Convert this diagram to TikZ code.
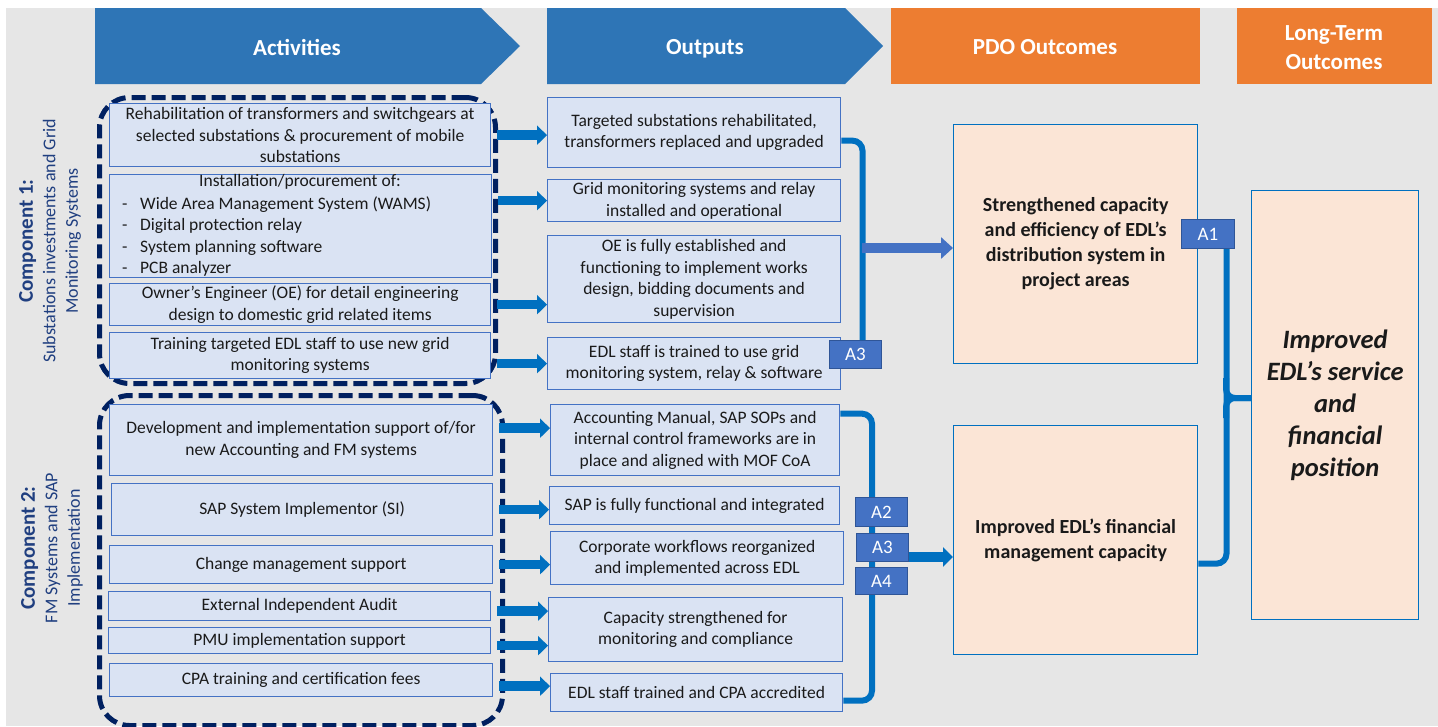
\documentclass[tikz,border=0pt]{standalone}
\usepackage{fontspec}
\setmainfont{Carlito}
\usetikzlibrary{arrows.meta}

\definecolor{bggray}{HTML}{E6E6E6}
\definecolor{hdrblue}{HTML}{2E75B6}
\definecolor{hdrorange}{HTML}{ED7D31}
\definecolor{boxfill}{HTML}{DAE3F3}
\definecolor{boxedge}{HTML}{4472C4}
\definecolor{pdofill}{HTML}{FBE5D6}
\definecolor{pdoedge}{HTML}{0070C0}
\definecolor{navy}{HTML}{002060}
\definecolor{flowblue}{HTML}{0070C0}
\definecolor{labfill}{HTML}{4472C4}
\definecolor{labedge}{HTML}{2F5597}
\definecolor{compblue}{HTML}{203F80}
\definecolor{ink}{HTML}{1A1A1A}

\newcommand\fbody{\fontsize{17.5}{21.5}\selectfont}
\newcommand\fhead{\fontsize{23}{29}\selectfont\bfseries}
\newcommand\fpdo{\fontsize{20}{25}\selectfont\bfseries}
\newcommand\flt{\fontsize{26.5}{32}\selectfont\bfseries\itshape}
\newcommand\flab{\fontsize{19}{22}\selectfont}

\tikzset{
  hdrtext/.style={text=white, font=\fhead, align=center, inner sep=0pt},
  actbox/.style={draw=boxedge, fill=boxfill, line width=1.3pt, inner sep=0pt,
    align=center, font=\fbody, text=ink, anchor=north west},
  outbox/.style={actbox},
  pdobox/.style={draw=pdoedge, fill=pdofill, line width=1.3pt, inner sep=0pt,
    align=center, text=ink, anchor=north west},
  dashbox/.style={draw=navy, line width=5pt, dash pattern=on 14pt off 6pt,
    rounded corners=30pt, inner sep=0pt, anchor=north west},
  lab/.style={draw=labedge, fill=labfill, line width=1pt, text=white, font=\flab,
    inner sep=0pt, anchor=north west},
  actarrow/.style={draw=flowblue, line width=9.5pt, shorten <=6pt,
    -{Triangle[length=10pt,width=19pt]}},
  pdoarrow/.style={draw=labfill, line width=10.5pt,
    -{Triangle[length=12pt,width=21pt]}},
  brk/.style={draw=flowblue, line width=6pt, rounded corners=10pt},
  complab/.style={rotate=90, align=center, text=compblue,
    font=\fontsize{18}{22.5}\selectfont, inner sep=0pt},
}

\begin{document}
\begin{tikzpicture}[x=1pt,y=-1pt]
\useasboundingbox (0,0) rectangle (1438,726);
\fill[bggray] (6,8) rectangle (1438,726);

% column headers
\fill[hdrblue] (95,8) -- (481,8) -- (520,46) -- (481,84) -- (95,84) -- cycle;
\fill[hdrblue] (547,8) -- (845,8) -- (883,46) -- (845,84) -- (547,84) -- cycle;
\fill[hdrorange] (891,8) rectangle (1200,84);
\fill[hdrorange] (1237,8) rectangle (1432,84);
\node[hdrtext] (hact) at (297,47) {Activities};
\node[hdrtext] (hout) at (705,49) {Outputs};
\node[hdrtext] (hpdo) at (1045,47) {PDO Outcomes};
\node[hdrtext] (hlt) at (1334,48) {Long-Term\\Outcomes};

% component labels
\node[complab] (c1lab) at (50,241) {{\fontsize{21}{22.5}\selectfont\bfseries Component 1:}\\Substations investments and Grid\\Monitoring Systems};
\node[complab] (c2lab) at (52,548) {{\fontsize{21}{22.5}\selectfont\bfseries Component 2:}\\FM Systems and SAP\\Implementation};

% activity groups
\node[dashbox, minimum width=396pt, minimum height=286pt] (g1) at (97,95) {};
\node[dashbox, minimum width=403pt, minimum height=330pt] (g2) at (97,393) {};

% activities, component 1
\node[actbox, minimum width=381pt, minimum height=63pt] (a1) at (109,103)
  {Rehabilitation of transformers and switchgears at\\selected substations \& procurement of mobile\\substations};
\node[actbox, minimum width=382pt, minimum height=103pt] (a2) at (109,174) {};
\node[font=\fbody, text=ink, inner sep=0pt] (a2h) at (300,182) {Installation/procurement of:};
\node[font=\fbody, text=ink, inner sep=0pt, anchor=north west] (a2l) at (122,194)
  {\begin{tabular}{@{}p{18pt}@{}l@{}}
   - & Wide Area Management System (WAMS)\\
   - & Digital protection relay\\
   - & System planning software\\
   - & PCB analyzer
   \end{tabular}};
\node[actbox, minimum width=381pt, minimum height=42pt] (a3) at (109,283)
  {Owner’s Engineer (OE) for detail engineering\\design to domestic grid related items};
\node[actbox, minimum width=381pt, minimum height=46pt] (a4) at (109,332)
  {Training targeted EDL staff to use new grid\\monitoring systems};

% activities, component 2
\node[actbox, minimum width=383pt, minimum height=71pt] (a5) at (109,404)
  {Development and implementation support of/for\\new Accounting and FM systems};
\node[actbox, minimum width=381pt, minimum height=52pt] (a6) at (111,483)
  {SAP System Implementor (SI)};
\node[actbox, minimum width=383pt, minimum height=38pt] (a7) at (109,545)
  {Change management support};
\node[actbox, minimum width=382pt, minimum height=29pt] (a8) at (108,591)
  {External Independent Audit};
\node[actbox, minimum width=382pt, minimum height=26pt] (a9) at (108,627)
  {PMU implementation support};
\node[actbox, minimum width=383pt, minimum height=33pt] (a10) at (109,663)
  {CPA training and certification fees};

% outputs
\node[outbox, minimum width=293pt, minimum height=70pt] (o1) at (547,97)
  {Targeted substations rehabilitated,\\transformers replaced and upgraded};
\node[outbox, minimum width=293pt, minimum height=42pt] (o2) at (547,179)
  {Grid monitoring systems and relay\\installed and operational};
\node[outbox, minimum width=293pt, minimum height=87pt] (o3) at (547,235)
  {OE is fully established and\\functioning to implement works\\design, bidding documents and\\supervision};
\node[outbox, minimum width=293pt, minimum height=52pt] (o4) at (547,337)
  {EDL staff is trained to use grid\\monitoring system, relay \& software};
\node[outbox, minimum width=289pt, minimum height=71pt] (o5) at (550,404)
  {Accounting Manual, SAP SOPs and\\internal control frameworks are in\\place and aligned with MOF CoA};
\node[outbox, minimum width=290pt, minimum height=38pt] (o6) at (549,486)
  {SAP is fully functional and integrated};
\node[outbox, minimum width=293pt, minimum height=53pt] (o7) at (550,531)
  {Corporate workflows reorganized\\and implemented across EDL};
\node[outbox, minimum width=294pt, minimum height=64pt] (o8) at (548,597)
  {Capacity strengthened for\\monitoring and compliance};
\node[outbox, minimum width=292pt, minimum height=38pt] (o9) at (550,673)
  {EDL staff trained and CPA accredited};

% outcomes
\node[pdobox, minimum width=244pt, minimum height=239pt, font=\fpdo] (p1) at (953,124)
  {Strengthened capacity\\and efficiency of EDL’s\\distribution system in\\project areas};
\node[pdobox, minimum width=244pt, minimum height=229pt, font=\fpdo] (p2) at (953,425)
  {Improved EDL’s financial\\management capacity};
\node[pdobox, minimum width=167pt, minimum height=429pt, font=\flt] (lt) at (1251,190)
  {Improved\\EDL’s service\\and\\financial\\position};

% activity -> output arrows
\draw[actarrow] (a1.east) -- (a1.east -| o1.west);
\draw[actarrow] (a2.east |- o2.west) -- (o2.west);
\draw[actarrow] (a3.east) -- (a3.east -| o3.west);
\draw[actarrow] (a4.east |- o4.west) -- (o4.west);
\draw[actarrow] ([yshift=12pt]a5.east) -- ([yshift=12pt]a5.east -| o5.west);
\draw[actarrow] (a6.east) -- (a6.east -| o6.west);
\draw[actarrow] (a7.east) -- (a7.east -| o7.west);
\draw[actarrow] ([yshift=-5pt]a8.east) -- ([yshift=-5pt]a8.east -| o8.west);
\draw[actarrow] ([yshift=-5pt]a9.east) -- ([yshift=-5pt]a9.east -| o8.west);
\draw[actarrow] ([yshift=-6pt]a10.east) -- ([yshift=-6pt]a10.east -| o9.west);

% component 1 outputs -> first outcome
\node[lab, minimum width=52pt, minimum height=28pt] (l3a) at (829,340) {A3};
\coordinate (j1) at (862,248);
\draw[brk] ([yshift=-8pt]o1.east) -| ([xshift=7pt]l3a.north);
\draw[pdoarrow] (j1) -- (j1 -| p1.west);

% component 2 outputs -> second outcome
\coordinate (j2) at (872,557);
\draw[brk] ([yshift=26.5pt]o5.east) -| (j2) |- ([yshift=-8pt]o9.east);
\draw[actarrow, shorten <=0pt] (j2) -- (j2 -| p2.west);

% assumption tags on the bracket
\node[lab, minimum width=52pt, minimum height=29pt] (l2) at (855,497) {A2};
\node[lab, minimum width=52pt, minimum height=28pt] (l3b) at (856,533) {A3};
\node[lab, minimum width=52pt, minimum height=27pt] (l4) at (855,567) {A4};
\node[lab, minimum width=53pt, minimum height=29pt] (l1) at (1181,219) {A1};

% outcomes -> long-term outcome
\coordinate (j3) at (1226,398);
\draw[brk] ([xshift=18.5pt]l1.south) |- ([yshift=-23.5pt]p2.east);
\draw[brk, rounded corners=9pt] (1226,378) |- (j3 -| lt.west);
\draw[brk, rounded corners=9pt] (1226,418) |- (j3 -| lt.west);
\end{tikzpicture}
\end{document}
